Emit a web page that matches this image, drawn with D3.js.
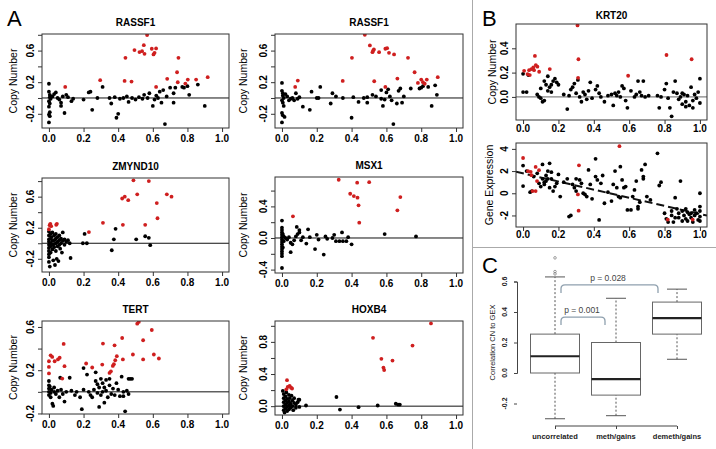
<!DOCTYPE html>
<html>
<head>
<meta charset="utf-8">
<script src="https://cdn.jsdelivr.net/npm/d3@7"></script>
<style>
  body { margin: 0; background: #fff; }
  text { font-family: "Liberation Sans", Arial, sans-serif; }
</style>
</head>
<body>
<svg id="fig" width="716" height="449"></svg>
<script>
// ---- data (x = methylation, y = copy number / expression) ----
var rassf1aRed = [[0.567,0.797],[0.548,0.669],[0.494,0.606],[0.523,0.581],[0.538,0.593],[0.552,0.559],[0.594,0.623],[0.619,0.627],[0.61,0.572],[0.604,0.551],[0.442,0.508],[0.748,0.508],[0.74,0.326],[0.296,0.225],[0.437,0.216],[0.477,0.208],[0.683,0.242],[0.744,0.199],[0.802,0.233],[0.85,0.233],[0.917,0.263],[0.788,0.182],[0.619,0.14],[0.094,0.14]];
var rassf1aBlack = [[0,0.18],[0,0.08],[0.005,0.04],[0.005,0.01],[0.01,-0.01],[0,-0.04],[0.005,-0.07],[0,-0.11],[0.005,-0.18],[0,-0.21],[0.005,-0.23],[0,-0.31],[0.02,0.02],[0.03,0.05],[0.04,0.07],[0.05,0],[0.06,-0.02],[0.07,-0.06],[0.07,-0.1],[0.08,0.02],[0.1,0.04],[0.11,0.01],[0.09,-0.19],[0.13,-0.04],[0.14,-0.01],[0.2,-0.02],[0.23,0.07],[0.24,0.08],[0.25,-0.15],[0.28,0],[0.31,0.14],[0.35,0],[0.36,-0.07],[0.38,0.01],[0.39,-0.25],[0.4,-0.2],[0.41,-0.01],[0.43,0],[0.45,0.02],[0.46,-0.05],[0.48,0],[0.5,-0.02],[0.52,0.01],[0.54,-0.01],[0.55,0.04],[0.57,0],[0.58,0.06],[0.6,-0.1],[0.61,-0.02],[0.62,0.03],[0.63,0],[0.64,0.08],[0.65,-0.06],[0.66,0.1],[0.67,-0.33],[0.68,0.02],[0.7,0.13],[0.72,-0.06],[0.73,0.13],[0.72,0.06],[0.78,0.13],[0.8,0.15],[0.81,0.04],[0.86,0.17],[0.9,-0.1],[0.77,0.14]];

var rassf1bRed = [[0.476,0.8],[0.505,0.665],[0.528,0.614],[0.52,0.58],[0.524,0.6],[0.558,0.58],[0.594,0.623],[0.604,0.631],[0.615,0.572],[0.644,0.551],[0.402,0.508],[0.724,0.508],[0.762,0.326],[0.349,0.216],[0.53,0.212],[0.663,0.246],[0.781,0.19],[0.8,0.233],[0.81,0.2],[0.832,0.233],[0.895,0.263],[0.594,0.14],[0.076,0.14],[0.091,0.22],[0.82,0.18]];
var rassf1bBlack = [[0,0.19],[0,0.09],[0.005,0.06],[0.005,0.03],[0.01,0],[0,-0.03],[0.005,-0.06],[0.01,-0.1],[0,-0.19],[0.005,-0.22],[0.015,-0.24],[0,-0.31],[0.02,0.05],[0.03,0.02],[0.04,-0.03],[0.05,-0.01],[0.06,0],[0.07,-0.03],[0.08,0.06],[0.09,-0.01],[0.1,0.01],[0.12,-0.11],[0.16,-0.15],[0.17,0.08],[0.2,0],[0.21,0],[0.22,0.14],[0.28,-0.07],[0.29,0.06],[0.31,0.02],[0.35,0],[0.4,-0.25],[0.41,0.01],[0.44,-0.05],[0.47,0],[0.49,0.01],[0.49,-0.06],[0.52,0.04],[0.54,0.02],[0.57,-0.01],[0.57,0.1],[0.58,-0.1],[0.59,-0.02],[0.6,0.07],[0.61,0.11],[0.62,0.02],[0.63,-0.03],[0.64,-0.33],[0.66,-0.07],[0.67,0.09],[0.68,0.12],[0.69,-0.06],[0.7,0.02],[0.74,0.12],[0.79,0.12],[0.8,0.13],[0.81,0.15],[0.84,0.14],[0.86,-0.1],[0.88,0.16],[0.89,0.04]];

var zmynd10Red = [[0.488,0.81],[0.577,0.8],[0.51,0.63],[0.423,0.576],[0.438,0.6],[0.458,0.555],[0.681,0.63],[0.708,0.6],[0.623,0.517],[0.627,0.322],[0.556,0.237],[0.427,0.237],[0.312,0.263],[0.231,0.144],[0.004,0.233],[0.008,0.25],[0.013,0.22],[0.042,0.237],[0.046,0.25],[0,0.18]];
var zmynd10Black = [[0,0.15],[0,0.1],[0,0.05],[0,0.02],[0,-0.02],[0,-0.06],[0,-0.1],[0,-0.14],[0,-0.18],[0,-0.24],[0.005,-0.3],[0.01,0.12],[0.01,0.06],[0.01,0],[0.01,-0.04],[0.01,-0.12],[0.015,0.08],[0.02,0.03],[0.02,-0.02],[0.02,-0.08],[0.02,0.14],[0.025,-0.22],[0.03,0.1],[0.03,0.04],[0.03,-0.01],[0.03,-0.05],[0.035,-0.28],[0.04,0.12],[0.04,0.06],[0.04,0],[0.04,-0.1],[0.045,-0.2],[0.05,0.08],[0.05,0.02],[0.05,-0.04],[0.055,-0.23],[0.06,0.1],[0.06,0.04],[0.06,-0.02],[0.065,-0.07],[0.07,0.06],[0.07,0],[0.075,-0.12],[0.08,0.14],[0.08,0.03],[0.09,0.05],[0.09,-0.02],[0.1,0.02],[0.11,0.04],[0.12,0],[0.125,-0.19],[0.206,0.12],[0.196,0],[0.219,0],[0.385,0.186],[0.375,0.05],[0.363,-0.09],[0.504,0.05],[0.556,0.09],[0.577,0.07],[0.585,-0.025]];

var msx1Red = [[0.326,0.737],[0.432,0.7],[0.501,0.707],[0.392,0.56],[0.413,0.53],[0.434,0.51],[0.44,0.413],[0.444,0.194],[0.663,0.35],[0.68,0.518],[0.063,0.274]];
var msx1Black = [[0,0.22],[0,0.13],[0,0.1],[0,0.07],[0,0.04],[0,0.01],[0,-0.02],[0,-0.05],[0,-0.08],[0,-0.11],[0,-0.14],[0,-0.17],[0,-0.2],[0,-0.23],[0,-0.38],[0.005,0.05],[0.005,-0.12],[0.01,0.02],[0.01,-0.04],[0.02,0],[0.03,-0.02],[0.04,0.01],[0.05,-0.06],[0.05,-0.18],[0.06,-0.08],[0.07,-0.03],[0.08,0.02],[0.085,0.14],[0.09,0.05],[0.1,0.1],[0.1,0.07],[0.11,-0.03],[0.12,0.01],[0.14,-0.07],[0.15,0.11],[0.16,0.01],[0.19,-0.14],[0.2,0.04],[0.21,-0.02],[0.24,-0.21],[0.25,0.02],[0.26,-0.01],[0.29,0],[0.3,0.04],[0.31,-0.04],[0.33,-0.04],[0.35,-0.04],[0.345,0.07],[0.37,-0.04],[0.38,0.01],[0.4,-0.08],[0.59,0.05],[0.77,0.02]];

var tertRed = [[0.51,0.63],[0.519,0.646],[0.594,0.572],[0.544,0.477],[0.423,0.498],[0.312,0.446],[0.085,0.443],[0.379,0.43],[0.485,0.345],[0.606,0.345],[0.635,0.308],[0.544,0.3],[0.427,0.3],[0.392,0.33],[0.383,0.292],[0.369,0.24],[0.375,0.255],[0.358,0.19],[0.35,0.175],[0.308,0.252],[0.215,0.262],[0.25,0.225],[0.09,0.237],[0.077,0.123],[0.01,0.338],[0.019,0.323],[0,0.283],[0,0.23],[0,0.17],[0.052,0.3],[0.062,0.315],[0.033,0.283]];
var tertBlack = [[0,0.1],[0,0.06],[0,0.03],[0,0],[0,-0.03],[0.005,0.05],[0.01,-0.01],[0.01,-0.05],[0.015,0.02],[0.02,-0.11],[0.025,-0.13],[0.03,0],[0.03,0.04],[0.04,-0.02],[0.05,0.01],[0.06,-0.05],[0.065,0.13],[0.07,0.02],[0.08,-0.02],[0.09,-0.09],[0.1,0],[0.12,0.13],[0.13,0.01],[0.15,-0.03],[0.16,0],[0.18,-0.05],[0.19,-0.16],[0.2,0.02],[0.2,0.22],[0.22,0.16],[0.23,0],[0.24,-0.03],[0.25,-0.05],[0.26,0.02],[0.27,0.18],[0.27,0.1],[0.28,0.07],[0.28,-0.01],[0.29,-0.14],[0.29,0.04],[0.3,0.12],[0.3,-0.03],[0.31,0.08],[0.31,0],[0.32,-0.1],[0.32,0.04],[0.33,0.11],[0.33,0.01],[0.34,-0.05],[0.35,0.06],[0.35,0.12],[0.36,-0.02],[0.37,0.03],[0.38,-0.03],[0.39,0.08],[0.4,0.02],[0.41,-0.04],[0.42,0.14],[0.43,0],[0.43,-0.04],[0.44,-0.18],[0.45,0.01],[0.46,0.12],[0.47,0.12],[0.48,0.12],[0.46,-0.02]];

var hoxb4Red = [[0.856,1.03],[0.523,0.85],[0.75,0.754],[0.571,0.589],[0.635,0.568],[0.583,0.48],[0.587,0.45],[0.029,0.324],[0.033,0.24],[0.044,0.253],[0.052,0.23],[0.025,0.21],[0.058,0.22]];
var hoxb4Black = [[0.005,0.19],[0.01,0.15],[0.01,0.1],[0.01,0.05],[0.01,0],[0.01,-0.05],[0.015,-0.08],[0.02,0.12],[0.02,0.07],[0.02,0.02],[0.02,-0.03],[0.025,0.17],[0.03,0.09],[0.03,0.04],[0.03,-0.01],[0.03,-0.06],[0.04,0.14],[0.04,0.06],[0.04,0.01],[0.04,-0.04],[0.045,0.1],[0.05,0.03],[0.05,-0.02],[0.055,0.13],[0.06,0.07],[0.06,0],[0.065,-0.05],[0.07,0.04],[0.07,0.1],[0.08,-0.02],[0.08,0.02],[0.09,0.05],[0.095,0.08],[0.1,0.08],[0.1,-0.01],[0.313,0.114],[0.333,-0.042],[0.44,-0.013],[0.55,0.008],[0.654,0.03],[0.667,0.02],[0.677,0.02],[0.138,0.008]];

var krt20CnRed = [[0.308,0.588],[0.313,0.31],[0.311,0.157],[0.811,0.345],[0.953,0.31],[0.594,0.174],[0.151,0.229],[0.006,0.215],[0.034,0.22],[0.047,0.229],[0.058,0.243],[0.072,0.262],[0.081,0.249],[0.091,0.207],[0.038,0.18],[0.025,0.188],[0.067,0.337],[0.062,0.22]];
var krt20CnBlack = [[0,0.19],[0,0.04],[0.02,0.04],[0.03,0.18],[0.08,0.02],[0.09,0],[0.1,-0.01],[0.1,0.07],[0.11,-0.04],[0.12,-0.03],[0.12,0.13],[0.13,0.1],[0.14,0.17],[0.14,0.05],[0.15,0.08],[0.16,0.1],[0.16,0.04],[0.17,0.13],[0.18,0.15],[0.19,0.12],[0.2,0.1],[0.23,0.02],[0.25,-0.1],[0.26,0.01],[0.27,0.06],[0.28,0.08],[0.29,0.11],[0.3,0.03],[0.31,0.14],[0.32,0],[0.33,-0.04],[0.34,0.04],[0.35,0.02],[0.36,-0.02],[0.37,0.05],[0.38,0.12],[0.39,-0.01],[0.41,0.06],[0.42,0.09],[0.43,0.03],[0.44,0],[0.46,-0.04],[0.48,0.01],[0.5,0.02],[0.51,-0.07],[0.52,0.03],[0.53,0.01],[0.54,0.04],[0.55,0],[0.56,0.09],[0.57,0.07],[0.58,-0.03],[0.59,-0.09],[0.61,0.05],[0.63,0],[0.64,0.02],[0.65,0.13],[0.66,0.04],[0.67,0.01],[0.68,0.13],[0.69,0],[0.71,0.01],[0.76,0.01],[0.77,-0.09],[0.78,0],[0.8,0.06],[0.81,0.11],[0.82,-0.01],[0.83,-0.09],[0.84,-0.16],[0.85,0.04],[0.86,0.13],[0.87,0.03],[0.88,-0.02],[0.89,0],[0.9,-0.06],[0.91,0.02],[0.92,-0.04],[0.93,0.01],[0.94,-0.07],[0.95,0.08],[0.96,-0.03],[0.97,0.02],[0.98,-0.01],[0.99,0.04],[1,0.15],[1,-0.05],[0.92,-0.08],[0.9,0.03],[0.96,-0.09]];

var krt20GexRed = [[0,3.18],[0.028,1.99],[0.043,1.93],[0.071,2.37],[0.09,2.08],[0.079,1.1],[0.053,0.2],[0.071,0.2],[0.545,4.24],[0.316,2.52],[0.31,-0.1],[0.314,-1.57],[0.818,-2.37],[0.959,-2.37],[0.047,1.63]];
var krt20GexBlack = [[0,2.5],[0,0.65],[0.02,2],[0.04,0.1],[0.05,0.2],[0.06,1.5],[0.08,1.8],[0.09,0.9],[0.1,0.6],[0.11,1.3],[0.11,2.6],[0.12,1],[0.12,0.8],[0.13,1.6],[0.13,1.1],[0.14,2],[0.14,1.3],[0.15,2.7],[0.15,0.5],[0.16,1.3],[0.16,1.9],[0.17,0.2],[0.18,0.6],[0.19,0.9],[0.2,1.7],[0.21,-0.3],[0.23,1],[0.25,1.3],[0.26,-2.1],[0.27,-2],[0.28,0.8],[0.29,0.5],[0.3,1.3],[0.3,0.2],[0.32,1.2],[0.33,0.9],[0.34,0],[0.35,-0.1],[0.36,-0.3],[0.37,2.1],[0.38,0.8],[0.39,-0.5],[0.41,3.1],[0.41,1.5],[0.42,1.2],[0.43,-2.4],[0.44,0.9],[0.45,1.6],[0.46,-0.9],[0.48,0.1],[0.5,-0.7],[0.51,0.8],[0.52,2],[0.53,0.5],[0.54,-0.3],[0.55,2.4],[0.55,-0.4],[0.56,1.2],[0.57,0.5],[0.58,0.6],[0.59,-1.5],[0.61,-1.5],[0.62,-0.3],[0.63,0.3],[0.64,1.1],[0.65,-1.2],[0.65,-1.4],[0.66,-0.8],[0.67,2.1],[0.68,1.5],[0.68,1.3],[0.69,2.6],[0.7,-0.3],[0.72,-0.6],[0.76,3.6],[0.77,0.7],[0.78,1],[0.8,-1.8],[0.81,-2.3],[0.82,-2.6],[0.84,-2],[0.85,-2.6],[0.86,-0.4],[0.87,-1.4],[0.88,-1.8],[0.88,-2.2],[0.89,1.1],[0.9,-2.5],[0.9,-1.6],[0.91,-2],[0.92,-2.3],[0.93,-1.7],[0.93,-2.5],[0.94,-1.9],[0.95,-2.2],[0.96,-2.6],[0.97,-1.5],[0.97,-2],[0.98,-1.8],[0.99,-2.4],[1,0],[1,-1.2],[1,-1.6],[1,-2.1],[1,-2.5],[0.84,-1.6],[0.86,-2.2],[0.92,-1.4],[0.95,-1.8]];
var krt20GexFit = [1.79, -3.66]; // intercept, slope of dashed line

// panel C boxplots
var groups = ["uncorrelated", "meth/gains", "demeth/gains"];
var whiskLo = [-0.30, -0.28, 0.09];
var q1 = [0.0, -0.145, 0.255];
var med = [0.11, -0.04, 0.36];
var q3 = [0.255, 0.2, 0.465];
var whiskHi = [0.63, 0.49, 0.55];
var outliers = [[0.65, 0.665, 0.755], [], []];
var pLabels = ["p = 0.001", "p = 0.028"];

var xTicks = [0, 0.2, 0.4, 0.6, 0.8, 1.0];
var RED = "#cf1f1f";

var svg = d3.select("#fig");
svg.append("rect").attr("width", 716).attr("height", 449).attr("fill", "#fff");

var clipN = 0;
function scatter(o) {
  var x = d3.scaleLinear().domain([-0.04, 1.04]).range([o.l, o.r]);
  var y = d3.scaleLinear().domain(o.yd).range([o.b, o.t]);
  var g = svg.append("g");
  var cid = "clip" + (clipN++);
  g.append("clipPath").attr("id", cid).append("rect")
    .attr("x", o.l).attr("y", o.t).attr("width", o.r - o.l).attr("height", o.b - o.t);
  var inner = g.append("g").attr("clip-path", "url(#" + cid + ")");

  inner.append("line").attr("x1", o.l).attr("x2", o.r)
    .attr("y1", y(0)).attr("y2", y(0))
    .attr("stroke", o.zeroCol || "#111").attr("stroke-width", 1);

  if (o.fit) {
    inner.append("line")
      .attr("x1", x(-0.04)).attr("y1", y(o.fit[0] + o.fit[1] * -0.04))
      .attr("x2", x(1.04)).attr("y2", y(o.fit[0] + o.fit[1] * 1.04))
      .attr("stroke", "#111").attr("stroke-width", 2).attr("stroke-dasharray", "8,4");
  }

  inner.selectAll(".pb").data(o.black).join("circle")
    .attr("cx", function(d) { return x(d[0]); })
    .attr("cy", function(d) { return y(d[1]); })
    .attr("r", 1.9).attr("fill", "#000");
  inner.selectAll(".pr").data(o.red).join("circle")
    .attr("cx", function(d) { return x(d[0]); })
    .attr("cy", function(d) { return y(d[1]); })
    .attr("r", 1.9).attr("fill", RED);

  g.append("rect").attr("x", o.l).attr("y", o.t)
    .attr("width", o.r - o.l).attr("height", o.b - o.t)
    .attr("fill", "none").attr("stroke", "#333").attr("stroke-width", 1);

  // x axis
  var xa = g.append("g").attr("transform", "translate(0," + o.b + ")")
    .call(d3.axisBottom(x).tickValues(xTicks).tickSize(4).tickFormat(""));
  xa.select(".domain").remove();
  xa.selectAll("line").attr("stroke", "#333");
  g.selectAll(".xl").data(xTicks).join("text")
    .attr("x", function(d) { return x(d); }).attr("y", o.b + (o.xOff || 14))
    .attr("text-anchor", "middle").attr("font-size", 10).attr("font-weight", "bold")
    .text(function(d) { return d.toFixed(1); });

  // y axis
  var ya = g.append("g").attr("transform", "translate(" + o.l + ",0)")
    .call(d3.axisLeft(y).tickValues(o.yTicks).tickSize(4).tickFormat(""));
  ya.select(".domain").remove();
  ya.selectAll("line").attr("stroke", "#333");
  g.selectAll(".yl").data(o.yLabels).join("text")
    .attr("transform", function(d) { return "translate(" + (o.l - 8) + "," + y(d) + ") rotate(-90)"; })
    .attr("text-anchor", "middle").attr("font-size", 10).attr("font-weight", "bold")
    .text(function(d) { return o.fmt ? o.fmt(d) : d.toFixed(1); });

  g.append("text")
    .attr("transform", "translate(" + (o.l - o.labOff) + "," + ((o.t + o.b) / 2) + ") rotate(-90)")
    .attr("text-anchor", "middle").attr("font-size", 10.5)
    .text(o.ylab);

  if (o.title) {
    g.append("text").attr("x", (o.l + o.r) / 2).attr("y", o.t - o.titleOff)
      .attr("text-anchor", "middle").attr("font-size", 10).attr("font-weight", "bold")
      .text(o.title);
  }
}

scatter({ l: 42, r: 229, t: 34, b: 128, yd: [-0.38, 0.81], yTicks: [-0.2, 0, 0.2, 0.4, 0.6, 0.8], yLabels: [-0.2, 0.2, 0.6],
  title: "RASSF1", titleOff: 8, ylab: "Copy Number", labOff: 25, red: rassf1aRed, black: rassf1aBlack });
scatter({ l: 275, r: 463, t: 34, b: 128, yd: [-0.38, 0.81], yTicks: [-0.2, 0, 0.2, 0.4, 0.6, 0.8], yLabels: [-0.2, 0.2, 0.6],
  title: "RASSF1", titleOff: 8, ylab: "Copy Number", labOff: 28, red: rassf1bRed, black: rassf1bBlack });
scatter({ l: 42, r: 229, t: 178, b: 272, yd: [-0.37, 0.84], yTicks: [-0.2, 0, 0.2, 0.4, 0.6, 0.8], yLabels: [-0.2, 0.2, 0.6],
  title: "ZMYND10", titleOff: 8, ylab: "Copy Number", labOff: 25, red: zmynd10Red, black: zmynd10Black });
scatter({ l: 275, r: 463, t: 177, b: 273, yd: [-0.443, 0.772], yTicks: [-0.4, -0.2, 0, 0.2, 0.4, 0.6], yLabels: [-0.4, 0, 0.4],
  title: "MSX1", titleOff: 8, ylab: "Copy Number", labOff: 28, red: msx1Red, black: msx1Black });
scatter({ l: 42, r: 229, t: 321, b: 414, yd: [-0.205, 0.655], yTicks: [-0.2, 0, 0.2, 0.4, 0.6], yLabels: [-0.2, 0.2, 0.6],
  title: "TERT", titleOff: 8, ylab: "Copy Number", labOff: 25, red: tertRed, black: tertBlack });
scatter({ l: 275, r: 463, t: 321, b: 415, yd: [-0.11, 1.06], yTicks: [0, 0.2, 0.4, 0.6, 0.8, 1.0], yLabels: [0, 0.4, 0.8],
  title: "HOXB4", titleOff: 8, ylab: "Copy Number", labOff: 28, red: hoxb4Red, black: hoxb4Black });
scatter({ l: 516, r: 707, t: 24, b: 120, yd: [-0.19, 0.6], yTicks: [0, 0.2, 0.4], yLabels: [0, 0.2, 0.4],
  title: "KRT20", titleOff: 5, ylab: "Copy Number", labOff: 20, xOff: 12, zeroCol: "#666",
  red: krt20CnRed, black: krt20CnBlack });
scatter({ l: 516, r: 707, t: 143, b: 227, yd: [-3.04, 4.53], yTicks: [-2, 0, 2, 4], yLabels: [-2, 0, 2, 4],
  fmt: function(d) { return String(d); }, ylab: "Gene Expression", labOff: 23, xOff: 11, zeroCol: "none",
  fit: krt20GexFit, red: krt20GexRed, black: krt20GexBlack });

// dividers
svg.append("line").attr("x1", 472.5).attr("x2", 472.5).attr("y1", 0).attr("y2", 449)
  .attr("stroke", "#aaa").attr("stroke-width", 1);
svg.append("line").attr("x1", 472.5).attr("x2", 716).attr("y1", 247.5).attr("y2", 247.5)
  .attr("stroke", "#aaa").attr("stroke-width", 1);

// panel letters
[["A", 7, 26], ["B", 482, 26], ["C", 482, 273]].forEach(function(p) {
  svg.append("text").attr("x", p[1]).attr("y", p[2]).attr("font-size", 22).text(p[0]);
});

// ---- panel C ----
var cx = d3.scalePoint().domain(groups).range([555, 677]);
var cy = d3.scaleLinear().domain([0, 0.6]).range([373, 281.5]);
var gc = svg.append("g");
var bw = 24.5;

var ya = gc.append("g").attr("transform", "translate(517,0)")
  .call(d3.axisLeft(cy).tickValues([-0.2, 0, 0.2, 0.4, 0.6]).tickSize(3).tickFormat(""));
ya.select(".domain").attr("stroke", "#444");
ya.selectAll("line").attr("stroke", "#444");
gc.selectAll(".cyl").data([-0.2, 0, 0.2, 0.4, 0.6]).join("text")
  .attr("transform", function(d) { return "translate(507," + cy(d) + ") rotate(-90)"; })
  .attr("text-anchor", "middle").attr("font-size", 7).attr("font-weight", "bold").attr("fill", "#222")
  .text(function(d) { return d.toFixed(1); });
gc.append("text").attr("transform", "translate(495," + cy(0.2) + ") rotate(-90)")
  .attr("text-anchor", "middle").attr("font-size", 7.5).attr("fill", "#222")
  .text("Correlation CN to GEX");

var xa = gc.append("g").attr("transform", "translate(0,426)")
  .call(d3.axisBottom(cx).tickSize(3).tickFormat(""));
xa.select(".domain").attr("stroke", "#444").attr("d", "M" + cx(groups[0]) + ",0H" + cx(groups[2]));
xa.selectAll("line").attr("stroke", "#444");
gc.selectAll(".cxl").data(groups).join("text")
  .attr("x", function(d) { return cx(d); }).attr("y", 439)
  .attr("text-anchor", "middle").attr("font-size", 7.5).attr("font-weight", "bold").attr("fill", "#222")
  .text(function(d) { return d; });

groups.forEach(function(gname, i) {
  var c = cx(gname);
  gc.append("line").attr("x1", c).attr("x2", c).attr("y1", cy(whiskLo[i])).attr("y2", cy(q1[i]))
    .attr("stroke", "#555").attr("stroke-dasharray", "2,2");
  gc.append("line").attr("x1", c).attr("x2", c).attr("y1", cy(q3[i])).attr("y2", cy(whiskHi[i]))
    .attr("stroke", "#555").attr("stroke-dasharray", "2,2");
  [whiskLo[i], whiskHi[i]].forEach(function(v) {
    gc.append("line").attr("x1", c - 10).attr("x2", c + 10).attr("y1", cy(v)).attr("y2", cy(v))
      .attr("stroke", "#555");
  });
  gc.append("rect").attr("x", c - bw).attr("width", 2 * bw)
    .attr("y", cy(q3[i])).attr("height", cy(q1[i]) - cy(q3[i]))
    .attr("fill", "#fff").attr("stroke", "#666");
  gc.append("line").attr("x1", c - bw).attr("x2", c + bw).attr("y1", cy(med[i])).attr("y2", cy(med[i]))
    .attr("stroke", "#222").attr("stroke-width", 2.2);
  gc.selectAll(".o" + i).data(outliers[i]).join("circle")
    .attr("cx", c).attr("cy", function(d) { return cy(d); }).attr("r", 1.3)
    .attr("fill", "none").attr("stroke", "#777").attr("stroke-width", 0.7);
});

// significance brackets
function bracket(x1, x2, yTop, yLeg, label, lx) {
  var r = 4;
  gc.append("path")
    .attr("d", "M" + x1 + "," + yLeg + "V" + (yTop + r) + "Q" + x1 + "," + yTop + " " + (x1 + r) + "," + yTop +
      "H" + (x2 - r) + "Q" + x2 + "," + yTop + " " + x2 + "," + (yTop + r) + "V" + yLeg)
    .attr("fill", "none").attr("stroke", "#8fa0ae").attr("stroke-width", 1.3);
  gc.append("text").attr("x", lx).attr("y", yTop - 4).attr("text-anchor", "middle")
    .attr("font-size", 8.5).attr("fill", "#444").text(label);
}
bracket(cx(groups[0]) + 6, cx(groups[1]) - 11, cy(0.367), cy(0.315), pLabels[0], 582);
bracket(cx(groups[0]) + 6, cx(groups[2]) - 19, cy(0.578), cy(0.525), pLabels[1], 608);
</script>
</body>
</html>
